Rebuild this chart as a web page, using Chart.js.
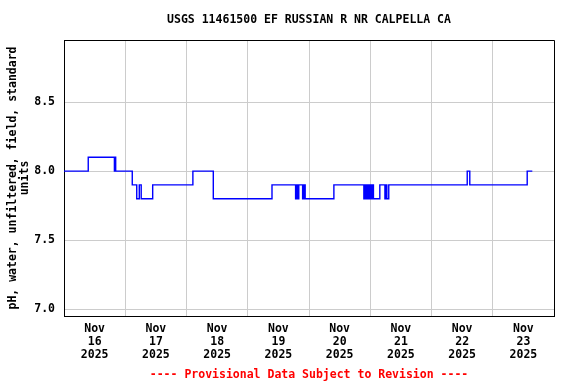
<!DOCTYPE html>
<html>
<head>
<meta charset="utf-8">
<script src="https://cdn.jsdelivr.net/npm/chart.js@4/dist/chart.umd.min.js"></script>
<style>
  html, body { margin: 0; background: #fff; }
  #marco { width: 576px; height: 384px; }
</style>
</head>
<body>
<div id="marco"><canvas id="grafico"></canvas></div>
<script>
// ── Datos (horas desde 16 nov 2025 00:00, cambios de valor) ──
const horas = [
  0, 9.5, 19.75, 20, 20.25, 26.75, 28.5, 29.5, 30.25, 34.75,
  50.5, 58.5, 81.5, 90.75, 91.25, 91.75, 92, 93.5, 94, 94.5,
  105.75, 117.5, 117.75, 118.25, 118.5, 119, 119.25, 119.75, 120, 120.5,
  120.75, 121.25, 123.75, 125.75, 126.25, 126.5, 127.25, 158, 159, 181.5,
  183.5
]
const ph = [
  8.0, 8.1, 8.0, 8.1, 8.0, 7.9, 7.8, 7.9, 7.8, 7.9,
  8.0, 7.8, 7.9, 7.8, 7.9, 7.8, 7.9, 7.8, 7.9, 7.8,
  7.9, 7.8, 7.9, 7.8, 7.9, 7.8, 7.9, 7.8, 7.9, 7.8,
  7.9, 7.8, 7.9, 7.8, 7.9, 7.8, 7.9, 8.0, 7.9, 8.0,
  8.0
]
const dias   = ['16', '17', '18', '19', '20', '21', '22', '23']
const ticksY = [7.0, 7.5, 8.0, 8.5]

const TITULO = 'USGS 11461500 EF RUSSIAN R NR CALPELLA CA'
const PIE    = '---- Provisional Data Subject to Revision ----'
const TITULO_Y = ['pH, water, unfiltered, field, standard', 'units']

const fuente = { family: "'DejaVu Sans Mono', monospace", size: 11.5, weight: 'bold' }

// ── Marco completo alrededor del área del gráfico ──
const marco = {
  id: 'marco',
  afterDraw(chart) {
    const { ctx, chartArea: a } = chart
    ctx.save()
    ctx.strokeStyle = '#000'
    ctx.lineWidth = 1
    ctx.beginPath()
    ctx.moveTo(Math.round(a.left), Math.round(a.top) + 0.5)
    ctx.lineTo(Math.round(a.right) + 0.5, Math.round(a.top) + 0.5)
    ctx.lineTo(Math.round(a.right) + 0.5, Math.round(a.bottom))
    ctx.stroke()
    ctx.restore()
  }
}

new Chart(document.getElementById('grafico'), {
  type: 'line',
  data: {
    datasets: [{
      data: horas.map((h, i) => ({ x: h, y: ph[i] })),
      borderColor: '#0000ff',
      borderWidth: 1.4,
      pointRadius: 0,
      stepped: 'before',
      fill: false
    }]
  },
  options: {
    responsive: true,
    maintainAspectRatio: false,
    animation: false,
    layout: { padding: { left: 0, right: 22, top: 0, bottom: 0 } },
    plugins: {
      legend: { display: false },
      tooltip: { enabled: false },
      title: {
        display: true,
        text: TITULO,
        color: '#000',
        fullSize: false,
        font: { ...fuente, lineHeight: 1.2 },
        padding: { top: 13, bottom: 13.2 }
      },
      subtitle: {
        display: true,
        position: 'bottom',
        text: PIE,
        color: '#ff0000',
        fullSize: false,
        font: { ...fuente, lineHeight: 1.2 },
        padding: { top: 6.1, bottom: 2.1 }
      }
    },
    scales: {
      x: {
        type: 'linear',
        min: 0,
        max: 192,
        afterBuildTicks: s => {
          s.ticks = []
          for (let v = 0; v <= 192; v += 12) s.ticks.push({ value: v })
        },
        afterFit: s => { s.height = 46 },
        grid: {
          color: c => (c.tick && c.tick.value % 24 === 0) ? '#cccccc' : 'rgba(0,0,0,0)',
          lineWidth: 1,
          drawTicks: false
        },
        border: { color: '#000', width: 1 },
        ticks: {
          autoSkip: false,
          maxRotation: 0,
          padding: 7,
          color: '#000',
          font: { ...fuente, lineHeight: 13 / 11.5 },
          callback: v => v % 24 === 12 ? ['Nov', dias[(v - 12) / 24], '2025'] : ''
        }
      },
      y: {
        min: 6.95,
        max: 8.95,
        afterBuildTicks: s => { s.ticks = ticksY.map(v => ({ value: v })) },
        afterFit: s => { s.width = 64 },
        grid: { color: '#cccccc', lineWidth: 1, drawTicks: false },
        border: { color: '#000', width: 1 },
        ticks: {
          padding: 9,
          color: '#000',
          font: fuente,
          callback: v => v.toFixed(1)
        },
        title: {
          display: true,
          text: TITULO_Y,
          color: '#000',
          font: { ...fuente, lineHeight: 12 / 11.5 },
          padding: { top: 7, bottom: 0 }
        }
      }
    }
  },
  plugins: [marco]
})
</script>
</body>
</html>
